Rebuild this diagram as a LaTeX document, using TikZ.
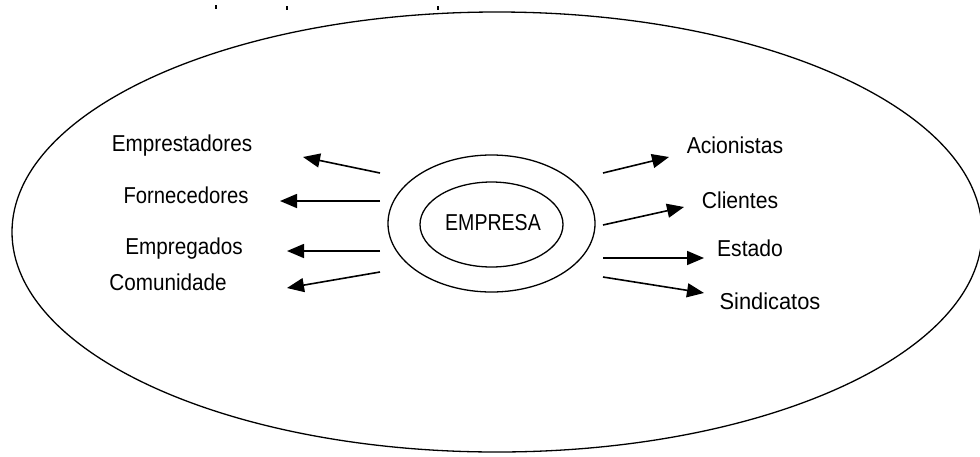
\documentclass[tikz,border=0pt]{standalone}
\usepackage{fontspec}
\setmainfont{Liberation Sans}
\usetikzlibrary{arrows.meta,shapes.geometric}
\begin{document}
\begin{tikzpicture}[x=1pt,y=-1pt,
  lab/.style={font=\fontsize{23}{27}\selectfont, inner sep=0pt},
  ring/.style={draw, line width=1.3pt},
  rel/.style={draw, line width=1.6pt, -{Triangle[length=17pt,width=14pt]}},
  tick/.style={line width=1.6pt}]
\useasboundingbox (0,0) rectangle (980,456);
\clip (0,0) rectangle (980,456);
\fill[white] (0,0) rectangle (980,456);
% outer environment
\node[ring, ellipse, minimum width=970pt, minimum height=440pt, inner sep=0pt] (env) at (497,232) {};
% tick fragments at top
\coordinate (t1a) at (216,5); \coordinate (t1b) at (216,9);
\coordinate (t2a) at (287,6); \coordinate (t2b) at (287,10);
\coordinate (t3a) at (438,6); \coordinate (t3b) at (438,10);
\draw[tick] (t1a) -- (t1b);
\draw[tick] (t2a) -- (t2b);
\draw[tick] (t3a) -- (t3b);
% company
\node[ring, ellipse, minimum width=207pt, minimum height=137pt, inner sep=0pt] (ring) at (491.5,223.5) {};
\node[ring, ellipse, minimum width=143pt, minimum height=85pt, inner sep=0pt] (core) at (491.5,224.5) {};
\node[lab] (emp) at (493,222.5) {\scalebox{0.85}[1]{EMPRESA}};
% labels
\node[lab] (l1) at (182,146) {\scalebox{0.9}[1]{Emprestadores}};
\node[lab] (l2) at (186,195) {\scalebox{0.88}[1]{Fornecedores}};
\node[lab] (l3) at (184,249) {\scalebox{0.9}[1]{Empregados}};
\node[lab] (l4) at (168,282) {\scalebox{0.9}[1]{Comunidade}};
\node[lab] (r1) at (735,145) {\scalebox{0.92}[1]{Acionistas}};
\node[lab] (r2) at (740,200) {\scalebox{0.92}[1]{Clientes}};
\node[lab] (r3) at (750,248) {\scalebox{0.92}[1]{Estado}};
\node[lab] (r4) at (770,301) {\scalebox{0.95}[1]{Sindicatos}};
% arrow ends
\coordinate (s1) at (380,173); \coordinate (e1) at (303,157);
\coordinate (s2) at (380,201); \coordinate (e2) at (280,201);
\coordinate (s3) at (380,251); \coordinate (e3) at (287,251);
\coordinate (s4) at (380,272); \coordinate (e4) at (287,288);
\coordinate (s5) at (603,173); \coordinate (e5) at (669,157);
\coordinate (s6) at (603,225); \coordinate (e6) at (684,207);
\coordinate (s7) at (603,258); \coordinate (e7) at (704,258);
\coordinate (s8) at (603,277); \coordinate (e8) at (704,293);
\draw[rel] (s1) -- (e1);
\draw[rel] (s2) -- (e2);
\draw[rel] (s3) -- (e3);
\draw[rel] (s4) -- (e4);
\draw[rel] (s5) -- (e5);
\draw[rel] (s6) -- (e6);
\draw[rel] (s7) -- (e7);
\draw[rel] (s8) -- (e8);
\end{tikzpicture}
\end{document}
